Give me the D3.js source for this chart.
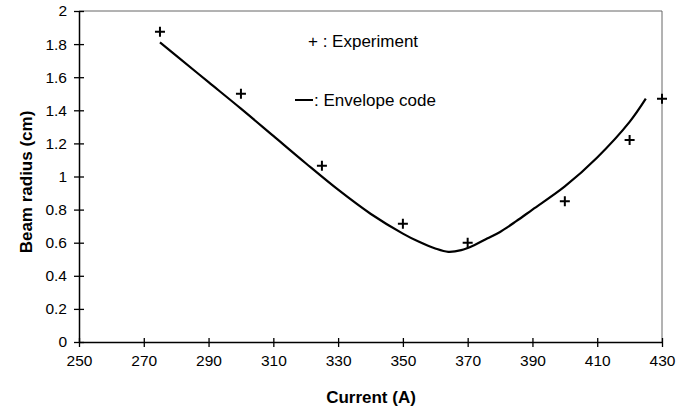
<!DOCTYPE html>
<html>
<head>
<meta charset="utf-8">
<script src="https://cdn.jsdelivr.net/npm/d3@7"></script>
<style>
  body { margin: 0; background: #fff; }
  svg { display: block; font-family: "Liberation Sans", Arial, sans-serif; }
  .tick text { font-size: 15.5px; fill: #000; }
  .axis-title { font-size: 17px; font-weight: bold; }
  .legend { font-size: 17px; }
</style>
</head>
<body>
<div id="chart"></div>
<script>
/**
 * DATA
 **/
// experiment points (current A, beam radius cm)
const expCurrent = [275, 300, 325, 350, 370, 400, 420, 430];
const expRadius  = [1.875, 1.50, 1.065, 0.715, 0.60, 0.85, 1.22, 1.47];

// envelope code curve
const envCurrent = [275, 280, 290, 300, 310, 320, 330, 340, 350, 355, 360, 364, 368, 372, 376, 380, 385, 390, 400, 410, 420, 425];
const envRadius  = [1.81, 1.73, 1.57, 1.41, 1.245, 1.08, 0.92, 0.775, 0.655, 0.605, 0.565, 0.545, 0.555, 0.585, 0.625, 0.665, 0.73, 0.80, 0.94, 1.115, 1.33, 1.47];

const xTicks = [250, 270, 290, 310, 330, 350, 370, 390, 410, 430];
const yTicks = [0, 0.2, 0.4, 0.6, 0.8, 1, 1.2, 1.4, 1.6, 1.8, 2];

/**
 * CONSTANTS
 **/
const
  width = 691, height = 413,
  margin = { top: 11, right: 29, bottom: 71, left: 79 },
  crossSize = 5;

const svg = d3.select("#chart")
  .append("svg")
  .attr("width", width)
  .attr("height", height);

// SCALES
const xScale = d3.scaleLinear()
  .domain([250, 430])
  .range([margin.left, width - margin.right]);

const yScale = d3.scaleLinear()
  .domain([0, 2])
  .range([height - margin.bottom, margin.top]);

// plot frame (top + right)
svg.append("path")
  .attr("d", `M${xScale(250)},${yScale(2)}H${xScale(430)}V${yScale(0)}`)
  .attr("fill", "none")
  .attr("stroke", "#666")
  .attr("stroke-width", 1);

// AXES
const xAxis = d3.axisBottom(xScale)
  .tickValues(xTicks)
  .tickFormat(d3.format("d"))
  .tickSizeInner(0)
  .tickSizeOuter(0)
  .tickPadding(13);

const yAxis = d3.axisLeft(yScale)
  .tickValues(yTicks)
  .tickFormat(d => d3.format("")(+d.toFixed(1)))
  .tickSizeInner(0)
  .tickSizeOuter(0)
  .tickPadding(12);

const gx = svg.append("g")
  .attr("transform", `translate(0,${yScale(0)})`)
  .call(xAxis);

const gy = svg.append("g")
  .attr("transform", `translate(${xScale(250)},0)`)
  .call(yAxis);

// cross ticks
gx.selectAll(".tick line").attr("y1", -4).attr("y2", 5);
gy.selectAll(".tick line").attr("x1", -5).attr("x2", 5);

[gx, gy].forEach(g => {
  g.select(".domain").attr("stroke", "#000").attr("stroke-width", 1.5);
  g.selectAll(".tick line").attr("stroke", "#000").attr("stroke-width", 1.3);
});

// axis titles
svg.append("text")
  .attr("class", "axis-title")
  .attr("x", 371)
  .attr("y", 403)
  .attr("text-anchor", "middle")
  .text("Current (A)");

svg.append("text")
  .attr("class", "axis-title")
  .attr("transform", `translate(32,${182}) rotate(-90)`)
  .attr("text-anchor", "middle")
  .text("Beam radius (cm)");

// ENVELOPE LINE
const envData = envCurrent.map((c, i) => ({ x: c, y: envRadius[i] }));
const lineFunc = d3.line()
  .x(d => xScale(d.x))
  .y(d => yScale(d.y))
  .curve(d3.curveCatmullRom.alpha(0.5));

svg.append("path")
  .datum(envData)
  .attr("d", lineFunc)
  .attr("fill", "none")
  .attr("stroke", "#000")
  .attr("stroke-width", 2.2);

// EXPERIMENT CROSSES
const expData = expCurrent.map((c, i) => ({ x: c, y: expRadius[i] }));
svg.selectAll("path.cross")
  .data(expData)
  .join("path")
  .attr("class", "cross")
  .attr("d", d => {
    const cx = xScale(d.x), cy = yScale(d.y);
    return `M${cx - crossSize},${cy}H${cx + crossSize}M${cx},${cy - crossSize}V${cy + crossSize}`;
  })
  .attr("stroke", "#000")
  .attr("stroke-width", 2);

// LEGEND
svg.append("text")
  .attr("class", "legend")
  .attr("x", 308)
  .attr("y", 47)
  .text("+ : Experiment");

svg.append("line")
  .attr("x1", 295).attr("x2", 313)
  .attr("y1", 100).attr("y2", 100)
  .attr("stroke", "#000")
  .attr("stroke-width", 2);

svg.append("text")
  .attr("class", "legend")
  .attr("x", 314)
  .attr("y", 106)
  .text(": Envelope code");
</script>
</body>
</html>
